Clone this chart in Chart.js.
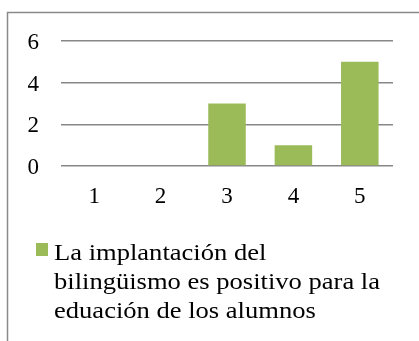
<!DOCTYPE html>
<html>
<head>
<meta charset="utf-8">
<script src="https://cdn.jsdelivr.net/npm/chart.js@4/dist/chart.umd.min.js"></script>
<style>
  html, body { margin: 0; padding: 0; background: #fff; }
  #wrap { width: 419px; height: 341px; }
</style>
</head>
<body>
<div id="wrap"><canvas id="chart" width="419" height="341"></canvas></div>
<script>
const categories = ['1', '2', '3', '4', '5'];
const values = [0, 0, 3, 1, 5];
const seriesLabel = ['La implantación del', 'bilingüismo es positivo para la', 'eduación de los alumnos'];

const serif = '"Liberation Serif", "Times New Roman", serif';
const barColor = '#9BBB59';

// outer frame like the Word chart box (only top and left edges are in view)
const framePlugin = {
    id: 'frame',
    beforeDraw(chart) {
        const ctx = chart.ctx;
        ctx.save();
        ctx.fillStyle = '#fff';
        ctx.fillRect(0, 0, chart.width, chart.height);
        ctx.strokeStyle = '#8a8a8a';
        ctx.lineWidth = 1.5;
        ctx.beginPath();
        ctx.moveTo(7.5, chart.height);
        ctx.lineTo(7.5, 12.5);
        ctx.lineTo(chart.width, 12.5);
        ctx.stroke();
        ctx.restore();
    }
};

// legend below the plot, with wrapped label text (source image is a bit wide, so stretch the text)
const legendPlugin = {
    id: 'wrappedLegend',
    afterDraw(chart) {
        const ctx = chart.ctx;
        const ds = chart.data.datasets[0];
        ctx.save();
        ctx.fillStyle = ds.backgroundColor;
        ctx.fillRect(36, 243, 12, 13);
        ctx.fillStyle = '#000';
        ctx.font = '23.5px ' + serif;
        ctx.textBaseline = 'alphabetic';
        ctx.translate(54, 0);
        ctx.scale(1.13, 1);
        ds.label.forEach((line, i) => {
            ctx.fillText(line, 0, 260 + i * 29);
        });
        ctx.restore();
    }
};

new Chart(document.getElementById('chart'), {
    type: 'bar',
    data: {
        labels: categories,
        datasets: [{
            label: seriesLabel,
            data: values,
            backgroundColor: barColor,
            borderWidth: 0,
            categoryPercentage: 1,
            barPercentage: 0.565
        }]
    },
    options: {
        responsive: false,
        animation: false,
        layout: {
            padding: { left: 0, right: 26, top: 41, bottom: 135 }
        },
        plugins: {
            legend: { display: false },
            tooltip: { enabled: false }
        },
        scales: {
            x: {
                grid: { display: false, drawTicks: false },
                border: { display: false },
                ticks: {
                    color: '#000',
                    font: { family: serif, size: 23 },
                    padding: 17
                },
                afterFit(scale) { scale.height = 40; }
            },
            y: {
                min: 0,
                max: 6,
                grid: { color: '#878787', lineWidth: 1.5, drawTicks: false },
                border: { display: false },
                ticks: {
                    stepSize: 2,
                    color: '#000',
                    font: { family: serif, size: 23 },
                    padding: 22,
                    labelOffset: 2
                },
                afterFit(scale) { scale.width = 61; }
            }
        }
    },
    plugins: [framePlugin, legendPlugin]
});
</script>
</body>
</html>
